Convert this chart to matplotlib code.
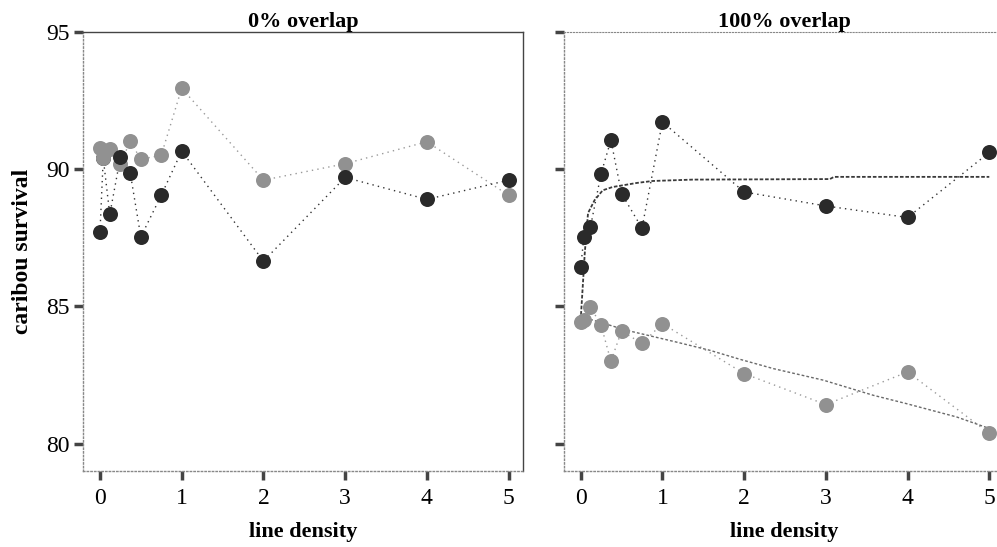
import matplotlib
matplotlib.use("Agg")
import matplotlib.pyplot as plt

plt.rcParams['font.family'] = ['Liberation Serif', 'DejaVu Serif']

# line density values (x) shared by all series
density = [0, 0.04, 0.12, 0.25, 0.37, 0.5, 0.75, 1, 2, 3, 4, 5]

# 0% overlap panel
left_dark = [87.70, 90.40, 88.35, 90.44, 89.87, 87.53, 89.05, 90.66, 86.65, 89.70, 88.90, 89.60]
left_gray = [90.79, 90.40, 90.75, 90.20, 91.02, 90.36, 90.51, 92.95, 89.60, 90.20, 91.00, 89.05]

# 100% overlap panel
right_dark = [86.42, 87.53, 87.90, 89.84, 91.06, 89.11, 87.85, 91.72, 89.17, 88.66, 88.24, 90.61]
right_gray = [84.43, 84.50, 84.98, 84.31, 83.00, 84.10, 83.65, 84.37, 82.55, 81.42, 82.61, 80.37]

# fitted curves in the 100% overlap panel
fit_dark_x = [0, 0.03, 0.05, 0.09, 0.17, 0.27, 0.39, 0.69, 0.88, 1.37, 3.05, 3.1, 5]
fit_dark_y = [84.5, 85.95, 86.94, 88.4, 88.87, 89.23, 89.35, 89.5, 89.57, 89.62, 89.64, 89.72, 89.72]
fit_gray_x = [0, 0.15, 0.56, 1.17, 1.58, 1.95, 2.36, 2.97, 3.58, 3.98, 4.6, 5]
fit_gray_y = [84.6, 84.5, 84.13, 83.7, 83.4, 83.07, 82.73, 82.31, 81.76, 81.46, 80.97, 80.55]

titles = ["0% overlap", "100% overlap"]
DARK = "#2a2a2a"
GRAY = "#919191"

fig = plt.figure(figsize=(9.97, 5.47), dpi=100)
W, H = 997, 547
ax1 = fig.add_axes([83.3 / W, 76 / H, 440 / W, 439 / H])
ax2 = fig.add_axes([564 / W, 76 / H, 440 / W, 439 / H])

for ax, dark, gray, title in [(ax1, left_dark, left_gray, titles[0]),
                              (ax2, right_dark, right_gray, titles[1])]:
    ax.plot(density, gray, color='#9a9a9a', lw=1, ls=(0, (1, 3)), zorder=2)
    ax.plot(density, dark, color='#333333', lw=1, ls=(0, (1, 3)), zorder=2)
    ax.plot(density, gray, 'o', color=GRAY, ms=10.8, mec='none', zorder=3)
    # the point at 0.04 sits behind the grey cluster
    ax.plot(density[1:2], dark[1:2], 'o', color=DARK, ms=10.8, mec='none', zorder=2.5)
    ax.plot(density[:1] + density[2:], dark[:1] + dark[2:], 'o', color=DARK,
            ms=10.8, mec='none', zorder=4)
    ax.set_xlim(-0.204, 5.18)
    ax.set_ylim(79, 95)
    ax.set_xticks([0, 1, 2, 3, 4, 5])
    ax.set_yticks([80, 85, 90, 95])
    ax.tick_params(direction='out', length=6.5, width=2.5, color='#444444',
                   labelsize=17)
    ax.tick_params(axis='y', pad=3)
    ax.tick_params(axis='x', pad=6)
    ax.set_title(title, fontsize=16, fontweight='bold', pad=3)
    ax.set_xlabel("line density", fontsize=16, fontweight='bold', labelpad=9)
    for side in ['left', 'bottom']:
        ax.spines[side].set_linestyle(':')
        ax.spines[side].set_color('#888888')
        ax.spines[side].set_linewidth(1)

ax1.spines['top'].set_color('#444444')
ax1.spines['right'].set_color('#444444')
ax1.spines['top'].set_linewidth(1)
ax1.spines['right'].set_linewidth(1)
ax1.set_ylabel("caribou survival", fontsize=17, fontweight='bold', labelpad=10)

ax2.spines['top'].set_linestyle(':')
ax2.spines['top'].set_color('#888888')
ax2.spines['right'].set_visible(False)
ax2.set_yticklabels([])

ax2.plot(fit_dark_x, fit_dark_y, color='#3a3a3a', lw=1.3, ls=(0, (2, 1)), zorder=2)
ax2.plot(fit_gray_x, fit_gray_y, color='#6a6a6a', lw=1, ls=(0, (2, 1.5)), zorder=2)

fig.savefig("out.png", dpi=100)
